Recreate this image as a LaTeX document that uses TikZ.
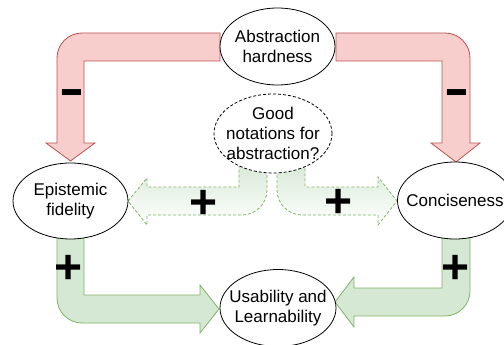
\documentclass[tikz,border=0pt]{standalone}
\usepackage{fontspec}
\setmainfont{Liberation Sans}
\usetikzlibrary{shapes.geometric}
\definecolor{redfill}{HTML}{F8CECC}
\definecolor{redline}{HTML}{B85450}
\definecolor{greenfill}{HTML}{D5E8D4}
\definecolor{greenline}{HTML}{82B366}
\tikzset{
  bubble/.style={ellipse, draw=black, fill=white, line width=0.8pt, inner xsep=-8pt, inner ysep=-2pt,
    align=center, font=\fontsize{17}{20}\selectfont},
  redarrow/.style={draw=redline, fill=redfill, line width=0.8pt, line join=miter},
  greenarrow/.style={draw=greenline, fill=greenfill, line width=0.8pt},
  fadearrow/.style={draw=greenline, line width=0.8pt, dash pattern=on 3pt off 2pt,
    top color=greenfill, bottom color=white},
  plussign/.style={font=\fontsize{48}{48}\selectfont\bfseries, inner sep=0pt},
  minussign/.style={font=\fontsize{50}{50}\selectfont\bfseries, inner sep=0pt},
}
\begin{document}
\begin{tikzpicture}[x=1pt,y=-1pt]
\useasboundingbox (0,0) rectangle (504,345);
% red arrows
\draw[redarrow] (220,33) -- (82,33) .. controls (68.2,33) and (57,44.2) .. (57,58)
  -- (57,143) -- (46,143) -- (70.5,161) -- (95,143) -- (84,143) -- (84,61) -- (220,61) -- cycle;
\draw[redarrow] (336,33) -- (445,33) .. controls (458.8,33) and (470,44.2) .. (470,58)
  -- (470,143) -- (480,143) -- (456,162) -- (431,143) -- (442,143) -- (442,61) -- (336,61) -- cycle;
% green solid arrows
\draw[greenarrow] (57,225) -- (57,298) .. controls (57,311.8) and (68.2,323) .. (82,323)
  -- (200,323) -- (200,333) -- (219,309) -- (200,285) -- (200,295) -- (84,295) -- (84,225) -- cycle;
\draw[greenarrow] (442,225) -- (442,288) -- (354,288) -- (354,277) -- (335,302) -- (354,327)
  -- (354,316) -- (445,316) .. controls (458.8,316) and (470,304.8) .. (470,291) -- (470,225) -- cycle;
% dashed gradient arrows
\draw[fadearrow] (267,160) -- (267,190) .. controls (267,203.8) and (255.8,215) .. (242,215)
  -- (147,215) -- (147,225) -- (128,201) -- (147,178) -- (147,187) -- (239,187) -- (239,160) -- cycle;
\draw[fadearrow] (277,160) -- (277,190) .. controls (277,203.8) and (288.2,215) .. (302,215)
  -- (378,215) -- (378,225) -- (397,201) -- (378,177) -- (378,187) -- (305,187) -- (305,160) -- cycle;
% ellipses
\node[bubble, minimum width=115pt, minimum height=77pt] (ah) at (277.5,46.5) {Abstraction\\hardness};
\node[bubble, dashed, dash pattern=on 3pt off 2pt, minimum width=118pt, minimum height=79pt] (good) at (273,133.5) {Good\\notations for\\abstraction?};
\node[bubble, minimum width=115pt, minimum height=76pt] (ef) at (70.5,201) {Epistemic\\fidelity};
\node[bubble, minimum width=114pt, minimum height=77pt] (con) at (455,200.5) {Conciseness};
\node[bubble, minimum width=116pt, minimum height=77pt] (ul) at (278,308) {Usability and\\Learnability};
% signs
\node[minussign] (m1) at (71.5,98) {\scalebox{1.5}[1]{-}};
\node[minussign] (m2) at (456.5,98) {\scalebox{1.5}[1]{-}};
\node[plussign] (p1) at (204,204) {+};
\node[plussign] (p2) at (339,203.7) {+};
\node[plussign] (p3) at (69,269.7) {+};
\node[plussign] (p4) at (455.5,269.7) {+};
\end{tikzpicture}
\end{document}
